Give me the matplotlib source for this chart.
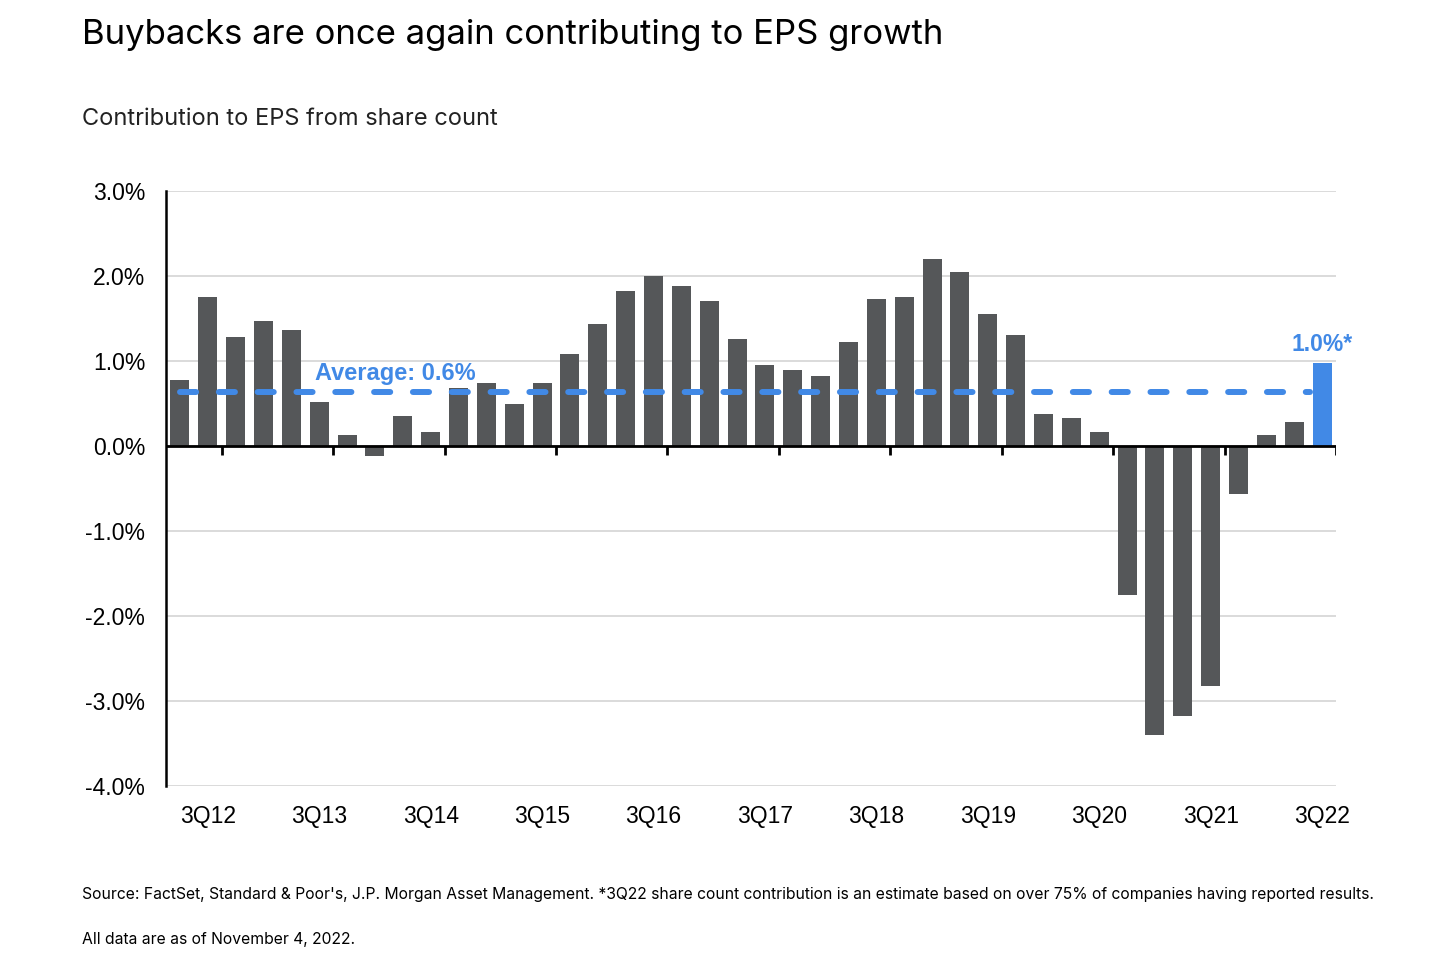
import matplotlib.pyplot as plt
import numpy as np

# Contribution to EPS from share count, 2Q12 .. 3Q22 (percent)
values = [0.78, 1.75, 1.28, 1.47, 1.37, 0.52, 0.13, -0.12, 0.35, 0.17,
          0.68, 0.74, 0.50, 0.74, 1.08, 1.43, 1.82, 2.00, 1.88, 1.71,
          1.26, 0.95, 0.90, 0.82, 1.22, 1.73, 1.75, 2.20, 2.05, 1.55,
          1.31, 0.38, 0.33, 0.16, -1.75, -3.40, -3.18, -2.82, -0.56, 0.13,
          0.28, 0.98]
year_labels = ['3Q12', '3Q13', '3Q14', '3Q15', '3Q16', '3Q17',
               '3Q18', '3Q19', '3Q20', '3Q21', '3Q22']
y_ticks = [3, 2, 1, 0, -1, -2, -3, -4]
average = 0.63

grey = '#555759'
blue = '#4189E6'

fig = plt.figure(figsize=(14.56, 9.58), dpi=100)
ax = fig.add_axes([0.114, 0.1795, 0.8036, 0.6211])

x = np.arange(len(values))
colors = [grey] * (len(values) - 1) + [blue]
ax.bar(x, values, width=0.68, color=colors, zorder=3)

# average line
ax.plot([0, len(values) - 1.45], [average, average], color=blue, lw=4.3,
        dashes=(2.7, 3.8), dash_capstyle='round', zorder=4)
ax.text(4.85, 0.78, 'Average: 0.6%', color=blue, fontsize=17, fontweight='bold',
        family='Liberation Sans', zorder=5)
ax.text(len(values) - 1, 1.12, '1.0%*', color=blue, fontsize=16.5, fontweight='bold',
        family='Liberation Sans', ha='center')

ax.set_xlim(-0.5, len(values) - 0.5)
ax.set_ylim(-4, 3)
ax.set_yticks(y_ticks)
ax.set_yticklabels([f'{v:.1f}%' for v in y_ticks], fontsize=16.5, family='Liberation Sans')
ax.yaxis.grid(True, color='#d4d4d4', lw=1.2, zorder=0)
ax.tick_params(axis='y', length=0, pad=15)

# year labels under the 3Q bars, ticks every four quarters on zero line
ax.set_xticks([])
for i, lab in enumerate(year_labels):
    ax.text(1 + 4 * i, -4.22, lab, ha='center', va='top', fontsize=16.5,
            family='Liberation Sans')
ax.axhline(0, color='black', lw=2, zorder=4)
for t in np.arange(1.5, len(values), 4):
    ax.plot([t, t], [0, -0.1], color='black', lw=2, zorder=4, solid_capstyle='butt')

for s in ['top', 'right', 'bottom']:
    ax.spines[s].set_visible(False)
ax.spines['left'].set_linewidth(1.8)

fig.text(0.056, 0.98, 'Buybacks are once again contributing to EPS growth',
         fontsize=25, family='Inter', va='top')
fig.text(0.056, 0.887, 'Contribution to EPS from share count',
         fontsize=17, family='Inter', va='top', color='#222222')
fig.text(0.056, 0.066, "Source: FactSet, Standard & Poor's, J.P. Morgan Asset Management. "
         "*3Q22 share count contribution is an estimate based on over 75% of companies having reported results.",
         fontsize=11.3, family='Inter', va='center')
fig.text(0.056, 0.019, 'All data are as of November 4, 2022.',
         fontsize=11.3, family='Inter', va='center')

fig.savefig('out.png', dpi=100, facecolor='white')
